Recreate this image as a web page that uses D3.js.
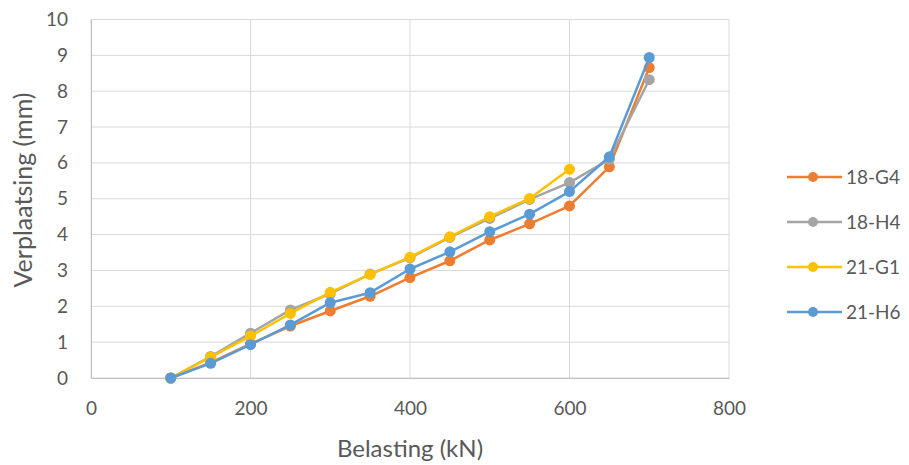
<!DOCTYPE html>
<html>
<head>
<meta charset="utf-8">
<script src="https://cdn.jsdelivr.net/npm/d3@7"></script>
<style>
body { margin: 0; background: #fff; }
text { font-family: Lato, "Open Sans", sans-serif; fill: #595959; }
</style>
</head>
<body>
<svg id="chart" width="909" height="465"></svg>
<script>
const loads = [100, 150, 200, 250, 300, 350, 400, 450, 500, 550, 600, 650, 700];
const s18G4 = [0, 0.43, 0.95, 1.45, 1.87, 2.28, 2.8, 3.27, 3.85, 4.3, 4.8, 5.89, 8.66];
const s18H4 = [0, 0.6, 1.25, 1.9, 2.35, 2.9, 3.35, 3.92, 4.45, 4.98, 5.45, 6.1, 8.32];
const s21G1 = [0, 0.58, 1.17, 1.8, 2.39, 2.89, 3.37, 3.94, 4.5, 5.01, 5.82];
const s21H6 = [0, 0.41, 0.93, 1.48, 2.1, 2.38, 3.04, 3.52, 4.08, 4.57, 5.2, 6.17, 8.94];
const seriesNames = ["18-G4", "18-H4", "21-G1", "21-H6"];
const seriesColors = ["#ED7D31", "#A5A5A5", "#FFC000", "#5B9BD5"];
const xTicks = [0, 200, 400, 600, 800];
const yTicks = [0, 1, 2, 3, 4, 5, 6, 7, 8, 9, 10];

(function () {
const series = [s18G4, s18H4, s21G1, s21H6].map((vals, i) => ({
  name: seriesNames[i], color: seriesColors[i],
  points: vals.map((v, j) => ({ x: loads[j], y: v }))
}));

const svg = d3.select("#chart");
const pL = 91, pR = 729, pT = 19.5, pB = 378;
const x = d3.scaleLinear().domain([0, 800]).range([pL, pR]);
const y = d3.scaleLinear().domain([0, 10]).range([pB, pT]);

// horizontal gridlines
svg.append("g").selectAll("line").data(yTicks).join("line")
  .attr("x1", pL).attr("x2", pR)
  .attr("y1", d => y(d)).attr("y2", d => y(d))
  .attr("stroke", "#D9D9D9").attr("stroke-width", 1);
// vertical gridlines
svg.append("g").selectAll("line").data(xTicks).join("line")
  .attr("x1", d => x(d)).attr("x2", d => x(d))
  .attr("y1", pT).attr("y2", pB)
  .attr("stroke", "#D9D9D9").attr("stroke-width", 1);

// axes
const yAxis = svg.append("g").attr("transform", `translate(${pL},0)`)
  .call(d3.axisLeft(y).tickValues(yTicks).tickSize(0).tickPadding(23));
yAxis.select(".domain").attr("stroke", "#BFBFBF");
yAxis.selectAll("text").style("font-size", "19px").attr("fill", "#595959");

const xAxis = svg.append("g").attr("transform", `translate(0,${pB})`)
  .call(d3.axisBottom(x).tickValues(xTicks).tickSize(0).tickPadding(24));
xAxis.select(".domain").attr("stroke", "#BFBFBF");
xAxis.selectAll("text").style("font-size", "19px").attr("fill", "#595959");

// axis titles
svg.append("text").attr("x", x(400)).attr("y", 457)
  .attr("text-anchor", "middle").style("font-size", "24px").text("Belasting (kN)");
svg.append("text").attr("transform", `translate(32,190) rotate(-90)`)
  .attr("text-anchor", "middle").style("font-size", "25px").text("Verplaatsing (mm)");

// lines and markers
const line = d3.line().x(d => x(d.x)).y(d => y(d.y));
series.forEach(s => {
  const g = svg.append("g");
  g.append("path").datum(s.points).attr("d", line)
    .attr("fill", "none").attr("stroke", s.color).attr("stroke-width", 2.5)
    .attr("stroke-linejoin", "round");
  g.selectAll("circle").data(s.points).join("circle")
    .attr("cx", d => x(d.x)).attr("cy", d => y(d.y)).attr("r", 5.5)
    .attr("fill", s.color);
});

// legend
const legendY = [177, 222, 267, 312];
series.forEach((s, i) => {
  const g = svg.append("g").attr("transform", `translate(0,${legendY[i]})`);
  g.append("line").attr("x1", 787).attr("x2", 842).attr("y1", 0).attr("y2", 0)
    .attr("stroke", s.color).attr("stroke-width", 2.5);
  g.append("circle").attr("cx", 813).attr("cy", 0).attr("r", 5).attr("fill", s.color);
  g.append("text").attr("x", 846).attr("y", 0).attr("dy", "0.35em")
    .style("font-size", "19px").text(s.name);
});
})();
</script>
</body>
</html>
